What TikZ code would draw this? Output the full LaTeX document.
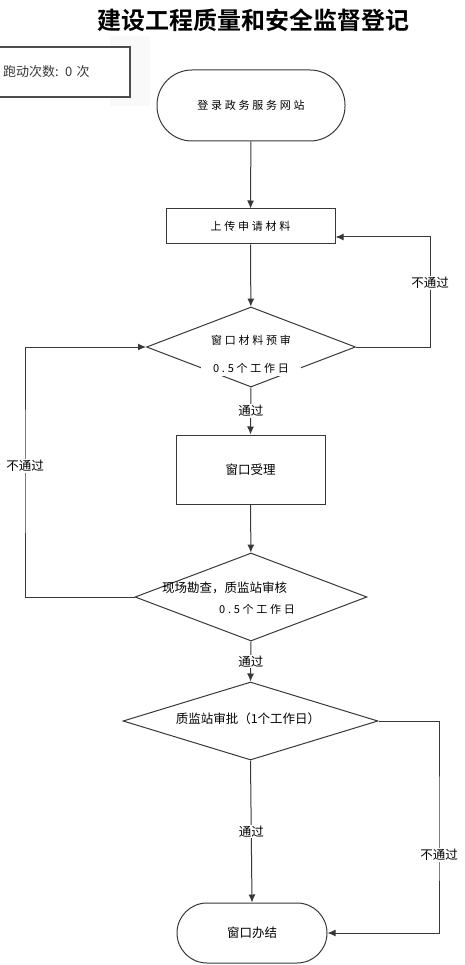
\documentclass[tikz,border=0pt]{standalone}
\usepackage{fontspec}
\setmainfont{Noto Sans CJK SC}[BoldFont={Noto Sans CJK SC Bold}]
\usepackage{tikz}
\usetikzlibrary{arrows.meta}
\usetikzlibrary{shapes.geometric}

\begin{document}
\begin{tikzpicture}[x=1pt, y=-1pt,
        flow/.style={draw=linegray, line width=1pt, -{Latex[length=8pt, width=7pt]}},
        proc/.style={draw=linegray, line width=1pt, rectangle, inner sep=0pt},
        term/.style={proc, rounded corners=#1},
        decision/.style={draw=linegray, line width=1pt, diamond, inner sep=0pt},
        spaced/.style={font=\fontsize{11}{13}\selectfont\addfontfeature{LetterSpace=25}},
        plain/.style={font=\fontsize{12.5}{14}\selectfont},
        pass/.style={plain, fill=white, inner sep=1pt}]
        \definecolor{linegray}{rgb}{0.22, 0.22, 0.22}
        \useasboundingbox (0,0) rectangle (464,965);

        % Title
        \node[font=\bfseries\fontsize{24}{26}\selectfont] (title) at (253,20) {建设工程质量和安全监督登记};

        % Counter box
        \fill[gray!5] (110,36) rectangle (150,106);
        \node[draw=linegray!90, line width=2pt, fill=white, minimum width=140, minimum height=50,
              text width=114, inner xsep=0pt, align=left, text=linegray,
              font=\fontsize{13}{15}\selectfont] (count) at (60,72) {跑动次数: 0 次};

        % Steps
        \node[term=35, spaced, minimum width=188, minimum height=71] (start) at (251,105.5) {登录政务服务网站};
        \node[proc, spaced, minimum width=169, minimum height=35] (upload) at (250.5,226.5) {上传申请材料};
        \node[decision, minimum width=209, minimum height=80] (check) at (251,347) {};
        \node[proc, plain, minimum width=149, minimum height=69] (accept) at (250.5,469.5) {窗口受理};
        \node[decision, minimum width=232, minimum height=88] (survey) at (251,597) {};
        \node[decision, minimum width=255, minimum height=78] (approve) at (250.5,721) {};
        \node[term=30, plain, minimum width=150, minimum height=60] (finish) at (252,933) {窗口办结};

        % Texts in the diamonds
        \node[spaced] (checkA) at (251,340) {窗口材料预审};
        \node[spaced, fill=white, inner xsep=12pt] (checkB) at (251,368) {0.5个工作日};
        \node[plain, anchor=west, inner sep=0pt] (surveyA) at (162,588) {现场勘查，质监站审核};
        \node[spaced, anchor=west, inner sep=0pt] (surveyB) at (219,609) {0.5个工作日};
        \node[plain] (approveA) at (248,719) {质监站审批（1个工作日）};

        % Main flow
        \draw[flow] (start) -- (upload);
        \draw[flow] (upload) -- (check);
        \draw[flow] (check.south) -- node[pass] {通过} (accept.north);
        \draw[flow] (accept) -- (survey);
        \draw[flow] (survey.south) -- node[pass] {通过} (approve.north);
        \draw[flow] (approve.south) -- node[pass] {通过} (finish.north);

        % Loops back
        \coordinate (backA) at (430,237);
        \draw[flow] (check.east) -| (backA) -- (upload.east |- backA);
        \node[pass] at (430,283) {不通过};

        \coordinate (backB) at (25,470);
        \draw[flow] (survey.west) -| (backB) |- (check.west);
        \node[pass] at (25,466) {不通过};

        \coordinate (backC) at (439,830);
        \draw[flow] (approve.east) -| (backC) |- (finish.east);
        \node[pass] at (439,855) {不通过};
    \end{tikzpicture}
\end{document}
